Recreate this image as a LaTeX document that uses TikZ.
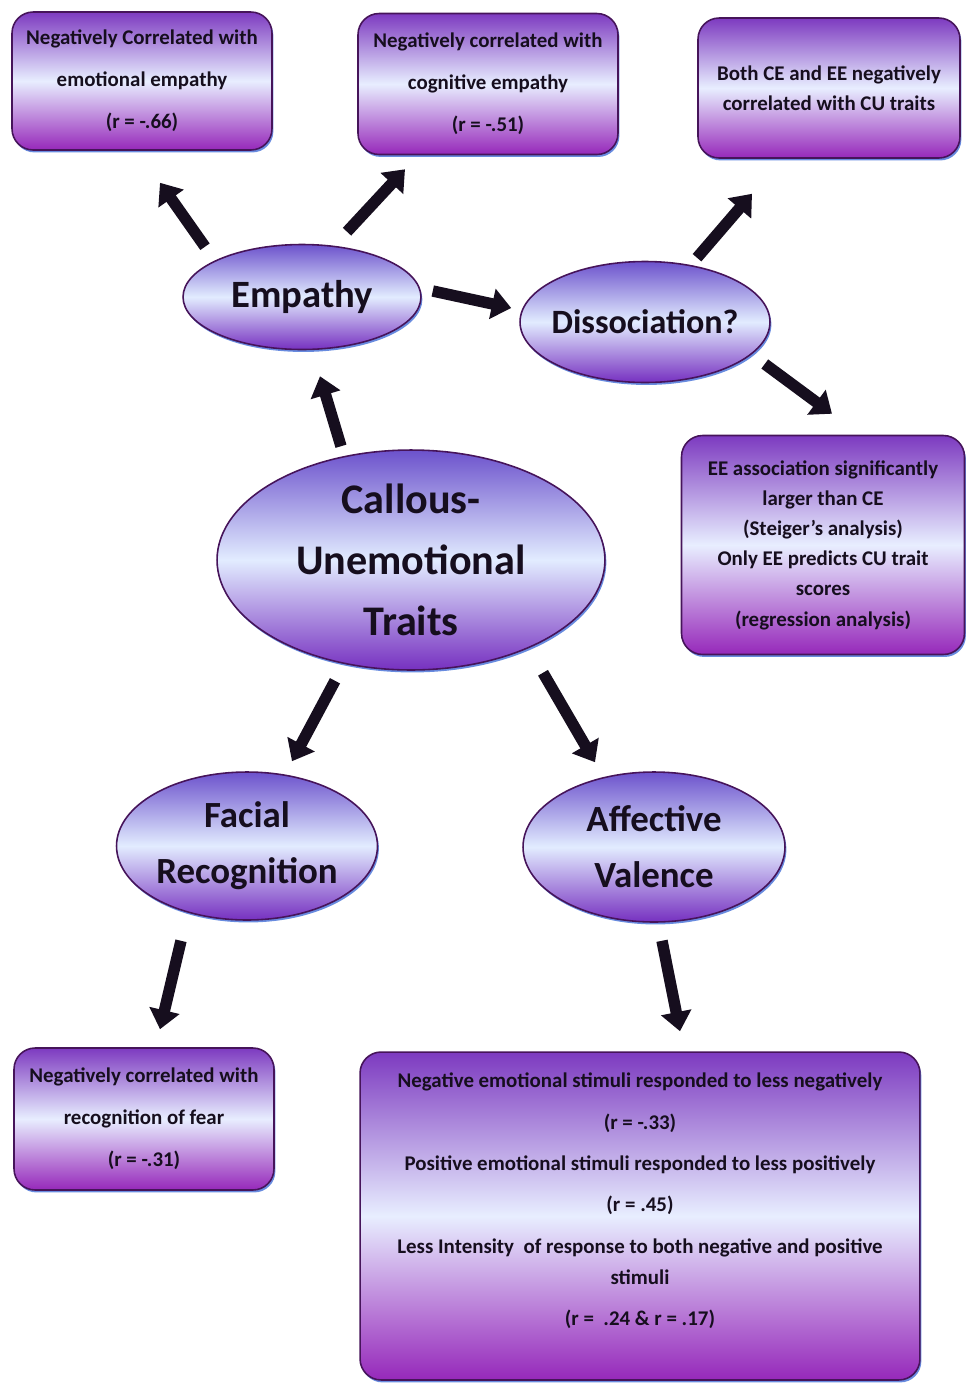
\documentclass[tikz,border=0pt]{standalone}
\usepackage{fontspec}
\setmainfont{Carlito}
\usetikzlibrary{positioning,shapes,arrows.meta,shadows,calc}

\definecolor{boxtop}{RGB}{125,58,192}
\definecolor{boxmid}{RGB}{232,238,255}
\definecolor{boxbot}{RGB}{150,40,186}
\definecolor{elltop}{RGB}{108,82,204}
\definecolor{ellmid}{RGB}{226,236,255}
\definecolor{ellbot}{RGB}{118,48,192}
\definecolor{rimpurple}{RGB}{70,20,90}
\definecolor{rimblue}{RGB}{40,90,210}
\definecolor{inkdark}{RGB}{22,14,30}

\begin{document}
\begin{tikzpicture}[
    x=0.02cm, y=-0.02cm,
    finding/.style={rectangle, draw=rimpurple, line width=0.9pt, rounded corners=12pt,
        top color=boxtop, bottom color=boxbot, middle color=boxmid, align=center,
        text=inkdark, font=\fontsize{11.9}{23.8}\selectfont\bfseries,
        drop shadow={shadow xshift=0.8pt, shadow yshift=-1.4pt, fill=rimblue, opacity=0.7}},
    concept/.style={ellipse, draw=rimpurple, line width=0.9pt, inner sep=0pt,
        top color=elltop, bottom color=ellbot, middle color=ellmid, align=center,
        text=inkdark,
        drop shadow={shadow xshift=0.8pt, shadow yshift=-1.4pt, fill=rimblue, opacity=0.7}},
    bigarrow/.style={draw=inkdark, line width=6.5pt, -{Triangle[width=17pt,length=11pt]}},
]
\useasboundingbox (0,0) rectangle (967,1387);

% Central concept and the three branches
\node[concept, minimum width=7.76cm, minimum height=4.4cm,
      font=\fontsize{24}{34.6}\selectfont\bfseries] (cu) at (411,560) {Callous-\\Unemotional\\Traits};
\node[concept, minimum width=4.76cm, minimum height=2.1cm,
      font=\fontsize{22}{26}\selectfont\bfseries] (emp) at (302,297) {Empathy};
\node[concept, minimum width=5cm, minimum height=2.42cm, inner xsep=-4pt,
      font=\fontsize{19.4}{24}\selectfont\bfseries] (dis) at (645,322) {Dissociation?};
\node[concept, minimum width=5.22cm, minimum height=2.96cm,
      font=\fontsize{21}{32}\selectfont\bfseries] (fac) at (247,846) {Facial\\Recognition};
\node[concept, minimum width=5.24cm, minimum height=3cm,
      font=\fontsize{21}{32}\selectfont\bfseries] (aff) at (654,847) {Affective\\Valence};

% Findings
\node[finding, minimum width=5.2cm, minimum height=2.76cm] (emo) at (142,81)
    {Negatively Correlated with\\emotional empathy\\(r = -.66)};
\node[finding, minimum width=5.2cm, minimum height=2.82cm] (cog) at (488,84)
    {Negatively correlated with\\cognitive empathy\\(r = -.51)};
\node[finding, minimum width=5.24cm, minimum height=2.8cm,
      font=\fontsize{11.9}{17}\selectfont\bfseries] (both) at (829,88)
    {Both CE and EE negatively\\correlated with CU traits};
\node[finding, minimum width=5.66cm, minimum height=4.38cm,
      font=\fontsize{11.9}{17.2}\selectfont\bfseries] (ee) at (823,545)
    {EE association significantly\\larger than CE\\(Steiger’s analysis)\\Only EE predicts CU trait\\scores\\(regression analysis)};
\node[finding, minimum width=5.2cm, minimum height=2.84cm] (fear) at (144,1119)
    {Negatively correlated with\\recognition of fear\\(r = -.31)};
\node[finding, minimum width=11.2cm, minimum height=6.56cm, text depth=19pt,
      font=\fontsize{11.9}{23.6}\selectfont\bfseries] (val) at (640,1216)
    {Negative emotional stimuli responded to less negatively\\(r = -.33)\\
     Positive emotional stimuli responded to less positively\\(r = .45)\\
     Less Intensity\ \ of response to both negative and positive\\[-6pt]stimuli\\
     (r =\ \ .24 \& r = .17)};

% Arrows
\draw[bigarrow] ($(emp.north)+(-97,3)$) -- ($(emo.south)+(18,32)$);
\draw[bigarrow] ($(emp.north)+(45,-12)$) -- ($(cog.south)+(-83,14)$);
\draw[bigarrow] ($(emp.east)+(11,-6)$) -- ($(dis.west)+(-8,-14)$);
\draw[bigarrow] ($(dis.north)+(52,-3)$) -- ($(both.south)+(-77,35)$);
\draw[bigarrow] ($(dis.east)+(-6,42)$) -- ($(ee.north)+(9,-21)$);
\draw[bigarrow] ($(cu.north)+(-70,-3)$) -- ($(emp.south)+(18,26)$);
\draw[bigarrow] ($(cu.south)+(-76,10)$) -- ($(fac.north)+(45,-10)$);
\draw[bigarrow] ($(cu.south)+(132,2)$) -- ($(aff.north)+(-59,-9)$);
\draw[bigarrow] ($(fac.south)+(-66,20)$) -- ($(fear.north)+(16,-18)$);
\draw[bigarrow] ($(aff.south)+(8,18)$) -- ($(val.north)+(40,-20)$);

\end{tikzpicture}
\end{document}
